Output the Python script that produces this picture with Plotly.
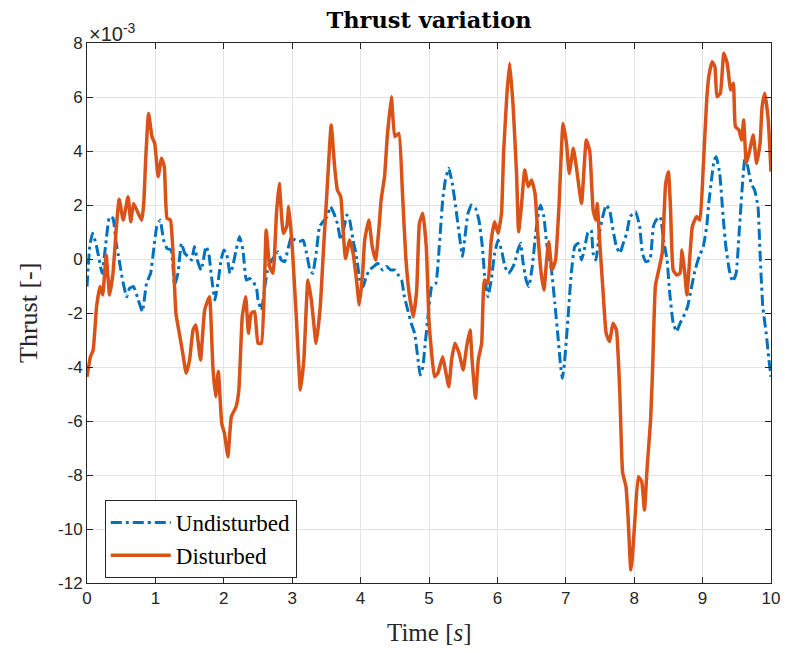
import numpy as np
import plotly.graph_objects as go

# Disturbed (orange), values in units of 1e-3
t_dist = [0.00,0.05,0.09,0.14,0.19,0.23,0.28,0.33,0.38,0.43,0.47,0.53,0.60,0.64,0.68,0.75,0.80,0.83,0.86,0.90,
          0.95,0.99,1.04,1.09,1.13,1.17,1.22,1.26,1.30,1.35,1.40,1.45,1.50,1.55,1.59,1.66,1.72,1.79,1.84,1.88,
          1.92,1.97,2.01,2.06,2.11,2.18,2.22,2.27,2.32,2.36,2.40,2.45,2.50,2.55,2.62,2.67,2.72,2.77,2.81,2.87,
          2.92,2.95,3.00,3.06,3.12,3.17,3.23,3.28,3.35,3.41,3.46,3.51,3.57,3.62,3.66,3.71,3.74,3.78,3.84,3.89,
          3.94,3.98,4.03,4.06,4.12,4.17,4.22,4.27,4.30,4.35,4.39,4.45,4.50,4.56,4.61,4.66,4.71,4.77,4.82,4.86,
          4.91,4.96,5.00,5.03,5.08,5.13,5.20,5.24,5.29,5.33,5.38,5.44,5.50,5.55,5.60,5.63,5.68,5.72,5.77,5.81,
          5.86,5.91,5.96,6.01,6.06,6.09,6.14,6.18,6.23,6.28,6.31,6.35,6.40,6.45,6.50,6.55,6.59,6.64,6.68,6.72,
          6.75,6.80,6.85,6.90,6.96,7.01,7.05,7.11,7.16,7.23,7.30,7.35,7.40,7.44,7.46,7.50,7.54,7.59,7.64,7.69,
          7.74,7.79,7.83,7.88,7.91,7.95,7.97,8.01,8.06,8.11,8.15,8.19,8.24,8.27,8.31,8.37,8.41,8.46,8.50,8.53,
          8.57,8.62,8.67,8.70,8.74,8.77,8.81,8.85,8.91,8.96,9.01,9.06,9.09,9.14,9.18,9.21,9.26,9.31,9.36,9.41,
          9.45,9.48,9.53,9.57,9.60,9.64,9.69,9.74,9.79,9.84,9.87,9.91,9.96,10.00]
v_dist = [-4.36,-3.62,-3.37,-1.77,-1.02,-1.33,0.15,-1.33,-0.52,1.20,2.21,1.44,2.31,1.38,2.06,1.69,1.44,2.07,3.79,5.39,
          4.53,4.28,3.05,3.73,3.42,1.51,1.44,0.09,-2.01,-2.75,-3.49,-4.23,-3.74,-2.63,-2.44,-3.74,-1.89,-1.40,-3.99,-5.10,
          -4.17,-6.09,-6.46,-7.32,-5.84,-5.47,-4.85,-2.14,-1.40,-2.75,-2.01,-1.95,-3.12,-3.12,1.07,-0.28,-0.53,1.69,2.80,0.95,
          1.20,1.94,0.46,-2.14,-4.85,-3.74,-0.78,-1.52,-3.12,-1.77,0.46,2.56,4.96,3.42,2.56,2.31,1.20,0.02,0.70,0.22,
          -0.78,-1.70,-0.53,0.70,1.44,0.46,-0.04,1.20,2.19,3.05,4.53,6.01,4.53,4.65,2.56,0.09,-1.27,-2.14,-1.15,1.32,
          1.69,0.46,-2.30,-3.25,-4.36,-4.23,-3.62,-4.11,-4.73,-3.74,-3.12,-3.49,-4.11,-3.25,-2.63,-3.74,-5.16,-3.74,-3.12,-0.78,
          -0.90,0.70,1.38,0.95,1.69,3.91,6.14,7.25,5.64,3.17,1.01,1.94,3.30,2.68,2.93,2.43,0.95,-0.53,-1.15,-0.04,
          0.64,-0.41,-0.04,1.94,5.02,4.28,3.17,4.10,3.30,2.06,4.41,4.00,1.80,1.44,2.06,0.46,-1.02,-2.75,-3.06,-2.38,
          -2.63,-5.00,-7.90,-8.43,-9.54,-11.52,-11.15,-9.67,-8.06,-8.25,-9.30,-7.69,-5.96,-3.99,-1.00,-0.28,0.22,2.80,3.23,1.94,
          -0.41,-0.59,-0.53,0.33,-0.53,-1.33,-0.04,1.20,1.57,1.44,3.42,5.89,6.75,7.31,7.12,6.01,6.14,7.62,7.25,6.26,
          6.51,4.90,4.78,4.41,5.15,3.54,4.04,4.59,3.54,4.28,5.64,6.14,5.15,3.23]

# Undisturbed (blue), values in units of 1e-3
t_und = [0.00,0.04,0.08,0.13,0.18,0.22,0.27,0.33,0.38,0.42,0.47,0.52,0.58,0.62,0.68,0.75,0.81,0.87,0.93,0.98,
         1.02,1.07,1.12,1.17,1.23,1.28,1.33,1.38,1.43,1.48,1.53,1.57,1.62,1.67,1.74,1.78,1.82,1.87,1.92,1.96,
         2.00,2.04,2.09,2.13,2.18,2.23,2.28,2.33,2.38,2.43,2.48,2.50,2.55,2.60,2.65,2.70,2.74,2.79,2.84,2.89,
         2.94,2.99,3.04,3.10,3.16,3.21,3.26,3.30,3.35,3.40,3.45,3.51,3.56,3.61,3.66,3.71,3.75,3.80,3.84,3.89,
         3.94,3.99,4.04,4.08,4.13,4.19,4.25,4.32,4.38,4.44,4.50,4.55,4.60,4.64,4.69,4.74,4.79,4.84,4.87,4.91,
         4.94,4.99,5.04,5.10,5.15,5.20,5.24,5.29,5.34,5.39,5.44,5.49,5.52,5.57,5.62,5.68,5.73,5.78,5.81,5.86,
         5.91,5.96,6.01,6.06,6.11,6.16,6.20,6.25,6.30,6.34,6.37,6.42,6.46,6.51,6.56,6.60,6.63,6.68,6.72,6.79,
         6.84,6.89,6.92,6.95,6.98,7.03,7.08,7.13,7.18,7.23,7.28,7.32,7.37,7.40,7.44,7.49,7.54,7.59,7.64,7.69,
         7.74,7.79,7.84,7.89,7.94,8.02,8.08,8.12,8.17,8.23,8.28,8.32,8.38,8.43,8.48,8.52,8.57,8.62,8.67,8.72,
         8.78,8.83,8.89,8.95,9.01,9.06,9.09,9.13,9.17,9.20,9.25,9.30,9.34,9.39,9.44,9.49,9.54,9.58,9.62,9.66,
         9.71,9.76,9.81,9.84,9.88,9.93,9.97,10.00]
v_und = [-1.02,0.46,0.95,0.58,-0.04,-0.53,0.46,1.57,1.51,0.70,-0.04,-0.78,-1.40,-1.09,-1.02,-1.52,-1.95,-0.90,-0.53,0.46,
         1.20,1.44,0.70,0.39,0.33,-0.96,-0.53,0.58,0.21,0.09,-0.04,0.46,-0.10,-0.41,0.46,0.21,-0.66,-1.52,-0.78,-0.04,
         0.33,0.21,-0.53,-0.28,0.33,0.83,0.33,-0.78,-0.72,-0.84,-1.10,-1.52,-1.89,-1.02,-0.28,-0.04,0.09,0.27,-0.04,-0.10,
         0.39,0.83,0.70,0.64,0.70,0.21,-0.41,-0.53,0.21,1.20,1.38,1.57,1.94,1.69,1.32,0.70,1.07,1.63,1.44,0.70,
         0.09,-0.78,-1.02,-0.66,-0.41,-0.28,-0.16,-0.41,-0.28,-0.41,-0.41,-0.59,-0.78,-1.40,-1.89,-2.38,-2.75,-3.74,-4.30,-4.00,
         -3.25,-2.01,-1.02,-0.90,0.46,2.19,2.93,3.36,2.80,1.94,0.95,0.09,0.70,1.69,2.00,1.88,1.44,0.46,-0.53,-1.40,
         -0.78,0.21,0.70,0.33,-0.28,-0.53,-0.41,-0.16,0.33,0.58,-0.04,-0.78,-1.02,-0.28,0.95,1.69,2.00,1.57,0.58,-0.41,
         -1.64,-3.00,-3.86,-4.42,-3.86,-2.26,-0.53,0.46,0.58,-0.04,0.46,0.95,1.07,0.21,-0.04,0.95,1.57,2.00,1.81,1.07,
         0.46,0.21,0.58,0.95,1.57,1.75,1.20,0.21,-0.10,-0.04,1.20,1.44,1.57,0.70,-0.04,-1.27,-2.38,-2.69,-2.38,-2.14,
         -1.77,-1.15,-0.41,0.09,0.46,1.20,2.06,2.93,3.67,3.79,3.17,1.57,0.46,-0.41,-0.84,-0.53,1.20,2.68,3.79,3.42,
         2.80,2.56,1.94,0.21,-1.77,-2.75,-3.74,-4.36]

y_ticks = [-12, -10, -8, -6, -4, -2, 0, 2, 4, 6, 8]
x_ticks = [0, 1, 2, 3, 4, 5, 6, 7, 8, 9, 10]
scale = 1e-3

BLUE = "#0072BD"
ORANGE = "#D95319"
SERIF = "Liberation Serif, DejaVu Serif, serif"
SANS = "Liberation Sans, Arial, sans-serif"
INK = "#262626"

fig = go.Figure()
fig.add_trace(go.Scatter(x=t_und, y=np.array(v_und) * scale, mode="lines", name="Undisturbed",
                         line=dict(color=BLUE, width=3, dash="11px,4px,3px,4px", shape="spline", smoothing=0.4)))
fig.add_trace(go.Scatter(x=t_dist, y=np.array(v_dist) * scale, mode="lines", name="Disturbed",
                         line=dict(color=ORANGE, width=3.5, shape="spline", smoothing=0.4)))

axis_common = dict(showline=True, linecolor=INK, linewidth=1, mirror="ticks",
                   ticks="inside", ticklen=6, tickcolor=INK, automargin=False,
                   showgrid=True, gridcolor="#E3E3E3", gridwidth=1, zeroline=False,
                   tickfont=dict(family=SANS, size=17, color=INK))

fig.update_layout(
    width=785, height=653,
    margin=dict(l=87, r=14, t=43, b=70),
    paper_bgcolor="white", plot_bgcolor="white",
    title=dict(text="<b>Thrust variation</b>", x=(87 + 771) / 2 / 785, xanchor="center",
               y=1 - 20 / 653, yanchor="middle",
               font=dict(family="DejaVu Serif, serif", size=22.5, color="black")),
    xaxis=dict(range=[0, 10], tickvals=x_ticks, ticktext=[str(v) for v in x_ticks], **axis_common),
    yaxis=dict(range=[-12 * scale, 8 * scale], tickvals=[v * scale for v in y_ticks],
               ticktext=[str(v) for v in y_ticks], **axis_common),
    legend=dict(x=0.026, y=(583 - 539) / 540, xanchor="left", yanchor="middle",
                bgcolor="white", bordercolor=INK, borderwidth=1,
                font=dict(family=SERIF, size=23, color="black"),
                itemwidth=60, tracegroupgap=0),
    showlegend=True,
)

# axis titles
fig.add_annotation(x=(28 - 87) / 684, y=0.5, xref="paper", yref="paper", xanchor="center", yanchor="middle",
                   text="Thrust [-]", textangle=-90, showarrow=False,
                   font=dict(family=SERIF, size=26, color=INK))
fig.add_annotation(x=0.5, y=(583 - 632) / 540, xref="paper", yref="paper", xanchor="center", yanchor="middle",
                   text="Time [<i>s</i>]", showarrow=False,
                   font=dict(family=SERIF, size=25, color=INK))
# exponent label
fig.add_annotation(x=0, y=1, xref="paper", yref="paper", xanchor="left", yanchor="bottom",
                   text="×10<sup>-3</sup>", showarrow=False, yshift=-4,
                   font=dict(family=SANS, size=20, color=INK))

fig.write_html("out.html")
